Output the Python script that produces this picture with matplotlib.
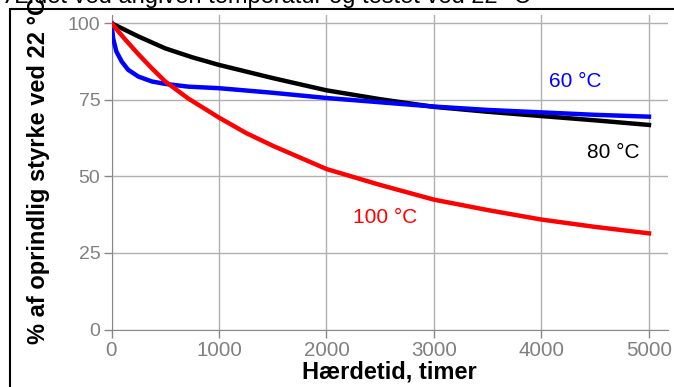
import matplotlib
matplotlib.use("Agg")
import matplotlib.pyplot as plt
from matplotlib.patches import Rectangle

plt.rcParams['font.family'] = ['Liberation Sans', 'DejaVu Sans']

# aging data, % of original strength tested at 22 C
hours_60 = [0, 15, 45, 95, 155, 250, 375, 500, 715, 1000, 1500, 2000, 2500, 3000, 3500, 4000, 4500, 5000]
strength_60 = [100, 95.1, 90.8, 87.5, 84.8, 82.6, 81.0, 80.2, 79.3, 78.8, 77.3, 75.6, 74.2, 72.8, 71.7, 70.9, 70.1, 69.5]

hours_80 = [0, 250, 500, 750, 1000, 1500, 2000, 2500, 3000, 3500, 4000, 4500, 5000]
strength_80 = [100, 95.7, 91.8, 88.9, 86.4, 82.1, 78.1, 75.2, 72.7, 71.1, 69.7, 68.3, 66.8]

hours_100 = [0, 125, 250, 375, 500, 715, 1000, 1250, 1500, 2000, 2500, 3000, 3500, 4000, 4500, 5000]
strength_100 = [100, 94.8, 89.9, 85.3, 81.0, 75.4, 69.2, 64.2, 60.0, 52.4, 47.2, 42.4, 39.0, 35.9, 33.5, 31.4]

x_ticks = [0, 1000, 2000, 3000, 4000, 5000]
y_ticks = [0, 25, 50, 75, 100]

fig = plt.figure(figsize=(6.74, 3.87), dpi=100)
ax = fig.add_axes([111.5 / 674, 1 - 329.5 / 387, 556.5 / 674, 314.5 / 387])

ax.plot(hours_80, strength_80, color='black', lw=3.2, zorder=3)
ax.plot(hours_60, strength_60, color='blue', lw=3.2, zorder=4)
ax.plot(hours_100, strength_100, color='red', lw=3.2, zorder=5)

ax.text(4310, 81.1, '60 °C', color='blue', fontsize=15, ha='center', va='center')
ax.text(4672, 57.9, '80 °C', color='black', fontsize=15, ha='center', va='center')
ax.text(2550, 36.7, '100 °C', color='red', fontsize=15, ha='center', va='center')

ax.set_xlim(0, 5177)
ax.set_ylim(0, 102.7)
ax.set_xticks(x_ticks)
ax.set_yticks(y_ticks)
ax.grid(True, color='#b0b0b0', lw=1)
ax.set_axisbelow(True)
for side in ['top', 'right']:
    ax.spines[side].set_visible(False)
for side in ['left', 'bottom']:
    ax.spines[side].set_color('#888888')
ax.tick_params(colors='#888888', labelcolor='#808080', length=6, width=1, pad=2)
ax.tick_params(axis='x', labelsize=14.8)
ax.tick_params(axis='y', labelsize=14)

ax.set_xlabel('Hærdetid, timer', fontsize=17, fontweight='bold', labelpad=1)
fig.text(39 / 674, 1 - 171 / 387, '% af oprindlig styrke ved 22 °C', rotation=90,
         fontsize=17, fontweight='bold', ha='center', va='center')

# title cut off at the top of the picture, and a frame around the chart
fig.text(5 / 674, 1 - 3.5 / 387, 'Ældet ved angiven temperatur og testet ved 22 °C',
         fontsize=17, ha='left', va='baseline')
fig.patches.append(Rectangle((10 / 674, -0.1), 1.0, (387 - 9) / 387 + 0.1, transform=fig.transFigure,
                             fill=False, edgecolor='black', lw=1.5, zorder=0))

fig.savefig('out.png', dpi=100)
